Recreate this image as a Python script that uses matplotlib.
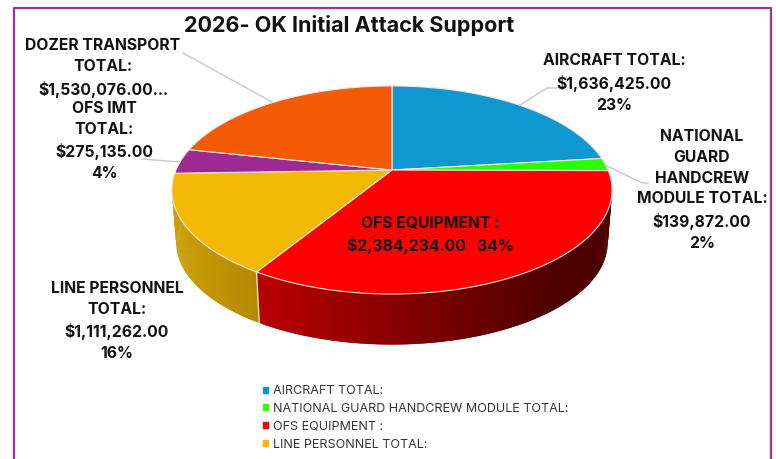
import numpy as np
import matplotlib
matplotlib.use('Agg')
import matplotlib.pyplot as plt
from matplotlib.patches import Patch

plt.rcParams['font.family'] = ['Inter', 'DejaVu Sans']

# clockwise from 12 o'clock
names = ['AIRCRAFT TOTAL:', 'NATIONAL GUARD HANDCREW MODULE TOTAL:', 'OFS EQUIPMENT :',
         'LINE PERSONNEL TOTAL:', 'OFS IMT TOTAL:', 'DOZER TRANSPORT TOTAL:']
values = [1636425, 139872, 2384234, 1111262, 275135, 1530076]
colors = ['#0F98D0', '#2CFF00', '#FF0000', '#F4B906', '#9C2A92', '#F55A05']
wall_left = {2: (0.72, 0, 0), 3: (0.80, 0.62, 0.03)}
wall_right = {2: (0.30, 0, 0), 3: (0.70, 0.53, 0.0)}

labels = ['AIRCRAFT TOTAL:\n$1,636,425.00\n23%',
          'NATIONAL\nGUARD\nHANDCREW\nMODULE TOTAL:\n$139,872.00\n2%',
          'OFS EQUIPMENT :\n$2,384,234.00   34%',
          'LINE PERSONNEL\nTOTAL:\n$1,111,262.00\n16%',
          'OFS IMT\nTOTAL:\n$275,135.00\n4%',
          'DOZER TRANSPORT\nTOTAL:\n$1,530,076.00...']
label_pos = [(614, 83), (702, 190), (430, 235), (117, 321), (104, 141), (103, 68)]

# perspective pie, sizes in px
cx, cy = 392, 170
rx, ry, k = 216, 100.2, 0.192
depth, shrink = 53, 0.98


def rim(theta, lower=False):
    u, v = np.sin(theta), np.cos(theta)
    s = shrink if lower else 1.0
    off = depth if lower else 0
    d = 1 + k * v
    return cx + s * rx * u / d, cy + off - s * ry * v / d


fig = plt.figure(figsize=(7.76, 4.59), dpi=100)
ax = fig.add_axes([0, 0, 1, 1])
ax.set_xlim(0, 776)
ax.set_ylim(459, 0)
ax.axis('off')

# frame
ax.plot([13.5, 13.5, 771, 771], [459, 8, 8, 459], color='#A0309A', lw=1.6)

edges = np.radians(np.concatenate([[0], np.cumsum(values)]) / sum(values) * 360)

# side wall, only the two front slices can be seen
# strips overlap so no seams show between them
for i in [3, 2]:
    th = np.linspace(edges[i], edges[i + 1], 160)
    for a, b in zip(th[:-2], th[2:]):
        xa, ya = rim(a)
        xb, yb = rim(b)
        xc, yc = rim(b, True)
        xd, yd = rim(a, True)
        lim = (258, 560) if i == 2 else (172, 262)
        t = np.clip(((xa + xb) / 2 - lim[0]) / (lim[1] - lim[0]), 0, 1)
        col = np.array(wall_left[i]) * (1 - t) + np.array(wall_right[i]) * t
        ax.fill([xa, xb, xc, xd], [ya, yb, yc, yd], facecolor=col, edgecolor='none')

xs1, ys1 = rim(edges[3])
xs2, ys2 = rim(edges[3], True)
ax.plot([xs1, xs2], [ys1, ys2], color='#E8E0D0', lw=1)

# top face
for i in range(len(values)):
    th = np.linspace(edges[i], edges[i + 1], 120)
    x, y = rim(th)
    ax.fill(np.r_[cx, x], np.r_[cy, y], facecolor=colors[i], edgecolor='#F0E4E0', lw=0.8)

# leader lines
leader = '#C8C8C8'
ax.plot([183, 272], [53, 102], color=leader, lw=1)
ax.plot([557, 547, 520], [88, 88, 105], color=leader, lw=1)
ax.plot([142, 180], [159, 162], color=leader, lw=1)
ax.plot([648, 642, 607], [183, 183, 166], color=leader, lw=1)

for txt, (x, y) in zip(labels, label_pos):
    ax.text(x, y, txt, ha='center', va='center', ma='center', fontsize=11.3,
            fontweight='bold', color='#111111', linespacing=1.47)

ax.text(349.5, 26, '2026- OK Initial Attack Support', ha='center', va='center',
        fontsize=15.5, fontweight='bold', color='#111111')

handles = [Patch(color=colors[i], label=names[i]) for i in range(4)]
ax.legend(handles=handles, loc='upper left', bbox_to_anchor=(263 / 776, 1 - 385 / 459),
          frameon=False, fontsize=9, handlelength=0.36, handleheight=0.36, handletextpad=0.45,
          labelspacing=0.47, borderpad=0, borderaxespad=0, labelcolor='#333333')

fig.savefig('out.png', dpi=100)
